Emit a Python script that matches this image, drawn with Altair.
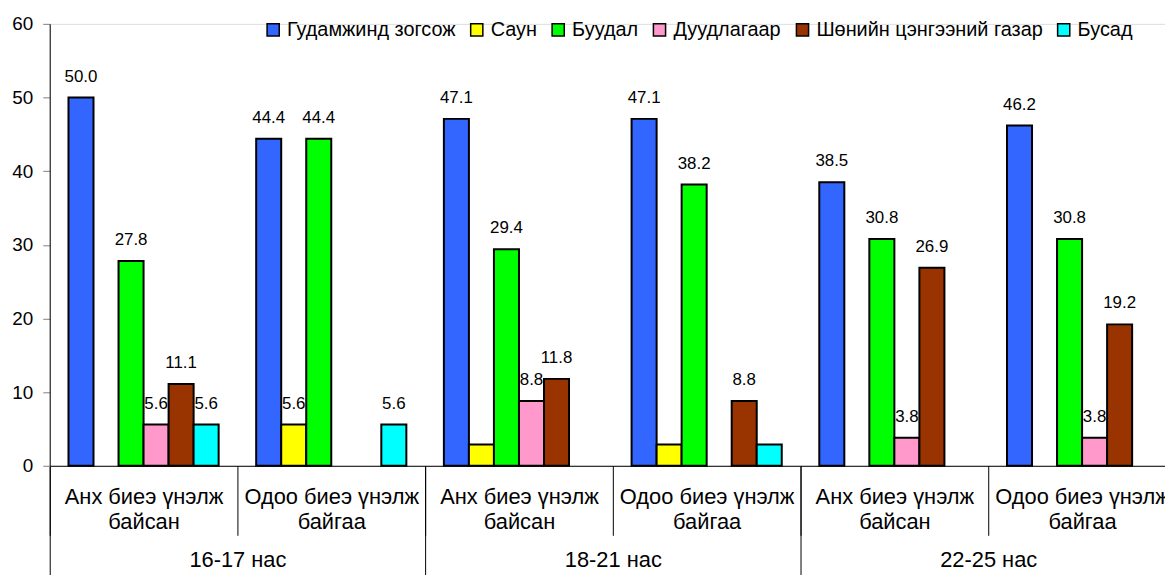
import altair as alt
import pandas as pd

FONT = "Arial, 'Liberation Sans', sans-serif"

ages = ["16-17 нас", "18-21 нас", "22-25 нас"]
kinds = ["Анх биеэ үнэлж|байсан", "Одоо биеэ үнэлж|байгаа"]
series = ["Гудамжинд зогсож", "Саун", "Буудал", "Дуудлагаар",
          "Шөнийн цэнгээний газар", "Бусад"]
colors = ["#3366FF", "#FFFF00", "#00FF00", "#FF99CC", "#993300", "#00FFFF"]

# values per group: (16-17 Анх, 16-17 Одоо, 18-21 Анх, 18-21 Одоо, 22-25 Анх, 22-25 Одоо)
gudamj = [50.0, 44.4, 47.1, 47.1, 38.5, 46.2]
saun = [0.0, 5.6, 2.9, 2.9, 0.0, 0.0]
buudal = [27.8, 44.4, 29.4, 38.2, 30.8, 30.8]
duudlaga = [5.6, 0.0, 8.8, 0.0, 3.8, 3.8]
shunii = [11.1, 0.0, 11.8, 8.8, 26.9, 19.2]
busad = [5.6, 5.6, 0.0, 2.9, 0.0, 0.0]
series_values = [gudamj, saun, buudal, duudlaga, shunii, busad]

groups = [f"{a}|{k}" for a in ages for k in kinds]

rows = []
for gi, g in enumerate(groups):
    for s, vals in zip(series, series_values):
        rows.append({"grp": g, "series": s, "value": vals[gi]})
df = pd.DataFrame(rows)
age_df = pd.DataFrame({"age": ages})

x_enc = alt.X(
    "grp:N",
    scale=alt.Scale(domain=groups, paddingInner=0, paddingOuter=0),
    axis=alt.Axis(
        title=None,
        labelExpr="slice(split(datum.label, '|'), 1)",
        labelAngle=0,
        labelFontSize=22,
        labelLineHeight=25,
        labelColor="black",
        labelFont=FONT,
        labelBaseline="alphabetic",
        labelPadding=-32,
        labelLimit=400,
        tickBand="extent",
        tickSize=70,
        tickColor="black",
        tickWidth=1,
        domainColor="black",
        domainWidth=1,
    ),
)
xoff_enc = alt.XOffset(
    "series:N",
    scale=alt.Scale(domain=series, paddingInner=0, paddingOuter=0.75),
)
y_enc = alt.Y(
    "value:Q",
    scale=alt.Scale(domain=[0, 60], nice=False),
    axis=alt.Axis(
        title=None,
        values=[0, 10, 20, 30, 40, 50, 60],
        grid=False,
        domainColor="black",
        tickColor="#808080",
        tickSize=7,
        labelFontSize=19,
        labelPadding=10,
        labelColor="black",
        labelFont=FONT,
    ),
)

bars = alt.Chart(df).transform_filter("datum.value > 0").mark_bar(
    stroke="black", strokeWidth=2
).encode(
    x=x_enc,
    xOffset=xoff_enc,
    y=y_enc,
    color=alt.Color(
        "series:N",
        scale=alt.Scale(domain=series, range=colors),
        legend=alt.Legend(
            title=None,
            orient="none",
            legendX=215,
            legendY=-4,
            direction="horizontal",
            columns=6,
            symbolType="square",
            symbolSize=150,
            symbolStrokeColor="black",
            symbolStrokeWidth=1.5,
            symbolOpacity=1,
            labelFontSize=20,
            labelFont=FONT,
            labelColor="black",
            labelOffset=4,
            columnPadding=11,
            labelLimit=400,
        ),
    ),
)

text = alt.Chart(df).transform_filter("datum.value > 3").mark_text(
    dy=-16, baseline="alphabetic", fontSize=17, font=FONT, color="black"
).encode(
    x=x_enc,
    xOffset=xoff_enc,
    y=y_enc,
    text=alt.Text("value:Q", format=".1f"),
)

outer = alt.Chart(age_df).mark_tick(opacity=0).encode(
    x=alt.X(
        "age:N",
        scale=alt.Scale(domain=ages, paddingInner=0, paddingOuter=0),
        axis=alt.Axis(
            title=None,
            orient="bottom",
            domain=False,
            labelAngle=0,
            labelFontSize=22,
            labelFont=FONT,
            labelColor="black",
            labelBaseline="alphabetic",
            labelPadding=-9,
            tickBand="extent",
            tickSize=110,
            tickColor="black",
            tickWidth=1,
        ),
    )
)

inner = alt.layer(bars, text)
chart = alt.layer(inner, outer).resolve_scale(x="independent").properties(
    width=1134,
    height=445,
    autosize=alt.AutoSizeParams(type="none"),
    padding={"left": 42, "top": 14, "right": -11, "bottom": 108},
).configure_view(stroke=None).configure(font=FONT)

chart.save("out.html", embed_options={"renderer": "svg", "actions": False})
